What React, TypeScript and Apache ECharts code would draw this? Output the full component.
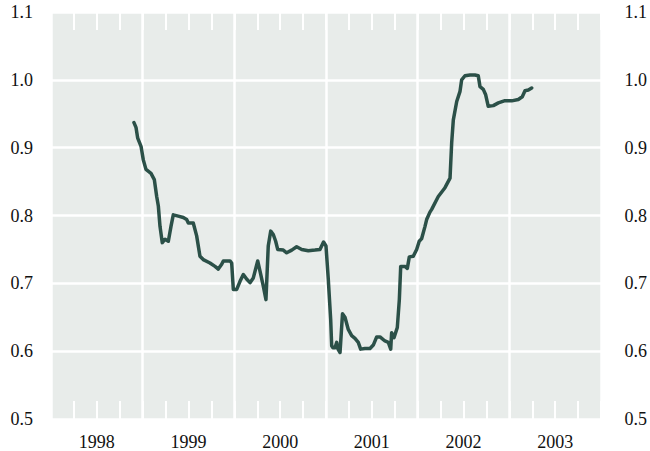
import React, { useEffect, useRef } from "react";
import * as echarts from "echarts";

const yearLabels = ["1998", "1999", "2000", "2001", "2002", "2003"];
const yTicks = [0.5, 0.6, 0.7, 0.8, 0.9, 1.0, 1.1];

// decimal year of each observation
const dates = [
  1998.905, 1998.927, 1998.946, 1998.982, 1999.007, 1999.036, 1999.091, 1999.127,
  1999.153, 1999.171, 1999.189, 1999.214, 1999.244, 1999.28, 1999.309, 1999.334,
  1999.389, 1999.443, 1999.48, 1999.498, 1999.552, 1999.589, 1999.625, 1999.661,
  1999.734, 1999.789, 1999.825, 1999.862, 1999.88, 1999.953, 1999.971, 1999.989,
  2000.026, 2000.062, 2000.098, 2000.136, 2000.171, 2000.207, 2000.255, 2000.28,
  2000.316, 2000.345, 2000.37, 2000.397, 2000.425, 2000.451, 2000.473, 2000.534,
  2000.571, 2000.626, 2000.68, 2000.735, 2000.807, 2000.88, 2000.934, 2000.973,
  2001.0, 2001.025, 2001.051, 2001.062, 2001.076, 2001.098, 2001.117, 2001.131,
  2001.153, 2001.18, 2001.207, 2001.243, 2001.28, 2001.316, 2001.352, 2001.378,
  2001.425, 2001.48, 2001.516, 2001.553, 2001.589, 2001.643, 2001.68, 2001.706,
  2001.716, 2001.742, 2001.778, 2001.8, 2001.815, 2001.862, 2001.887, 2001.909,
  2001.952, 2001.989, 2002.017, 2002.044, 2002.08, 2002.098, 2002.134, 2002.153,
  2002.225, 2002.298, 2002.353, 2002.371, 2002.389, 2002.426, 2002.462, 2002.48,
  2002.516, 2002.571, 2002.625, 2002.661, 2002.68, 2002.716, 2002.742, 2002.77,
  2002.825, 2002.88, 2002.945, 2003.026, 2003.098, 2003.141, 2003.171, 2003.207,
  2003.244,
];

const values = [
  0.937, 0.93, 0.914, 0.902, 0.882, 0.868, 0.862, 0.853,
  0.828, 0.814, 0.784, 0.76, 0.765, 0.762, 0.784, 0.801,
  0.799, 0.797, 0.794, 0.789, 0.789, 0.77, 0.74, 0.735,
  0.73, 0.725, 0.721, 0.728, 0.733, 0.733, 0.73, 0.691,
  0.691, 0.703, 0.713, 0.706, 0.701, 0.708, 0.733, 0.718,
  0.696, 0.676, 0.755, 0.777, 0.772, 0.762, 0.75, 0.749,
  0.745, 0.749, 0.754, 0.75, 0.748, 0.749, 0.75, 0.761,
  0.755, 0.706, 0.647, 0.608, 0.605, 0.605, 0.613, 0.603,
  0.598, 0.655, 0.65, 0.632, 0.623, 0.619, 0.613, 0.603,
  0.604, 0.604, 0.609, 0.621, 0.621, 0.615, 0.613, 0.603,
  0.627, 0.62, 0.635, 0.676, 0.725, 0.725, 0.722, 0.739,
  0.74, 0.75, 0.762, 0.766, 0.784, 0.794, 0.805, 0.809,
  0.828, 0.841, 0.855, 0.907, 0.941, 0.968, 0.983, 1.0,
  1.006, 1.007, 1.007, 1.006, 0.99, 0.986, 0.978, 0.961,
  0.962, 0.966, 0.969, 0.969, 0.971, 0.975, 0.984, 0.985,
  0.988,
];

const FONT = '"Liberation Serif", "Times New Roman", serif';

export default function App() {
  const ref = useRef<HTMLDivElement>(null);
  useEffect(() => {
    if (!ref.current) return;
    const chart = echarts.init(ref.current, undefined, { renderer: "svg" });
    const xMin = 1998;
    const xMax = 2004;
    const tickAxis = (position: "top" | "bottom") => ({
      type: "value",
      gridIndex: 0,
      position,
      min: xMin,
      max: xMax,
      interval: 0.25,
      axisLine: { show: false },
      axisTick: { show: true, inside: true, length: 18, lineStyle: { color: "#ffffff", width: 2 } },
      axisLabel: { show: false },
      splitLine: { show: false },
    });
    chart.setOption({
      animation: false,
      grid: {
        left: 51,
        right: 49,
        top: 12,
        bottom: 31,
        show: true,
        backgroundColor: "#e8ecea",
        borderWidth: 0,
      },
      xAxis: [
        {
          type: "value",
          min: xMin,
          max: xMax,
          interval: 1,
          axisLine: { show: false },
          axisTick: { show: false },
          axisLabel: { show: false },
          splitLine: { show: true, lineStyle: { color: "#ffffff", width: 2.5 } },
        },
        tickAxis("bottom"),
        tickAxis("top"),
        {
          type: "category",
          position: "bottom",
          data: yearLabels,
          boundaryGap: true,
          axisLine: { show: false },
          axisTick: { show: false },
          splitLine: { show: false },
          axisLabel: { margin: 14, color: "#111111", fontSize: 18, fontFamily: FONT },
        },
      ],
      yAxis: [
        {
          type: "value",
          position: "left",
          min: yTicks[0],
          max: yTicks[yTicks.length - 1],
          interval: 0.1,
          axisLine: { show: false },
          axisTick: { show: false },
          splitLine: { show: true, lineStyle: { color: "#ffffff", width: 2.5 } },
          axisLabel: {
            margin: 18,
            color: "#111111",
            fontSize: 18,
            fontFamily: FONT,
            formatter: (v: number) => v.toFixed(1),
          },
        },
        {
          type: "value",
          position: "right",
          min: yTicks[0],
          max: yTicks[yTicks.length - 1],
          interval: 0.1,
          axisLine: { show: false },
          axisTick: { show: false },
          splitLine: { show: false },
          axisLabel: {
            margin: 46,
            align: "right",
            color: "#111111",
            fontSize: 18,
            fontFamily: FONT,
            formatter: (v: number) => v.toFixed(1),
          },
        },
      ],
      series: [
        {
          type: "line",
          xAxisIndex: 0,
          yAxisIndex: 0,
          data: dates.map((d, i) => [d, values[i]]),
          showSymbol: false,
          symbol: "none",
          smooth: false,
          lineStyle: { color: "#2b5048", width: 3.5, join: "round", cap: "round" },
          z: 5,
        },
      ],
    });
    return () => chart.dispose();
  }, []);
  return <div ref={ref} style={{ width: 650, height: 451, position: "absolute", left: 0, top: 0 }} />;
}
